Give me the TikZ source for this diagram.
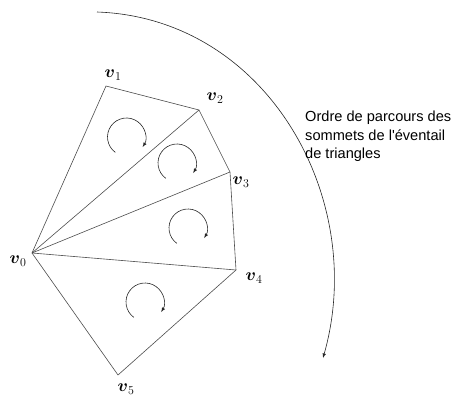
\documentclass[tikz,border=0pt]{standalone}
\usepackage{amsfonts, amssymb, amsmath}
\usepackage{fontspec}
\newfontfamily\notefont{Liberation Sans}
\usepackage{tikz}
\usetikzlibrary{positioning}

\begin{document}
\begin{tikzpicture}[
  x=1pt, y=-1pt,
    >=latex,
    edge/.style={draw=black!70, line width=.6pt},
    curl/.style={->, black!85, line width=.6pt},
    vlabel/.style={font=\fontsize{18}{20}\selectfont, inner sep=0pt},
    note/.style={font=\notefont\fontsize{14.6}{18.3}\selectfont, align=left, inner sep=0pt}
]
\useasboundingbox (0,0) rectangle (455,398);

% Vertices
\coordinate (v0) at (32,253);
\coordinate (v1) at (106,86);
\coordinate (v2) at (199,110);
\coordinate (v3) at (230,172);
\coordinate (v4) at (236,270);
\coordinate (v5) at (118,375);

% Labels
\node[vlabel] (l0) at (18,261) {$\boldsymbol{v}_0$};
\node[vlabel] (l1) at (113,75) {$\boldsymbol{v}_1$};
\node[vlabel] (l2) at (215,98) {$\boldsymbol{v}_2$};
\node[vlabel] (l3) at (241,182) {$\boldsymbol{v}_3$};
\node[vlabel] (l4) at (254,278) {$\boldsymbol{v}_4$};
\node[vlabel] (l5) at (126,389) {$\boldsymbol{v}_5$};

% Edges of the fan
\draw[edge] (v0) -- (v1) -- (v2) -- (v3) -- (v4) -- (v5) -- cycle;
\foreach \v in {v2,v3,v4}
  \draw[edge] (v0) -- (\v);

% Orientation of each triangle
\foreach \c in {(126.5,137),(177,163),(188,228),(145,302)}
  \draw[curl] \c ++(234:19pt) arc[start angle=234, end angle=-32, radius=19pt];

% Traversal order
\coordinate (top) at (97,12);
\coordinate (bottom) at (323,358);
\draw[->, black!85, line width=.6pt]
    (top) .. controls (268,18) and (368,200) .. (bottom);

\node[note, anchor=north west] (txt) at (305,111)
  {Ordre de parcours des\\sommets de l'éventail\\de triangles};

\end{tikzpicture}
\end{document}
